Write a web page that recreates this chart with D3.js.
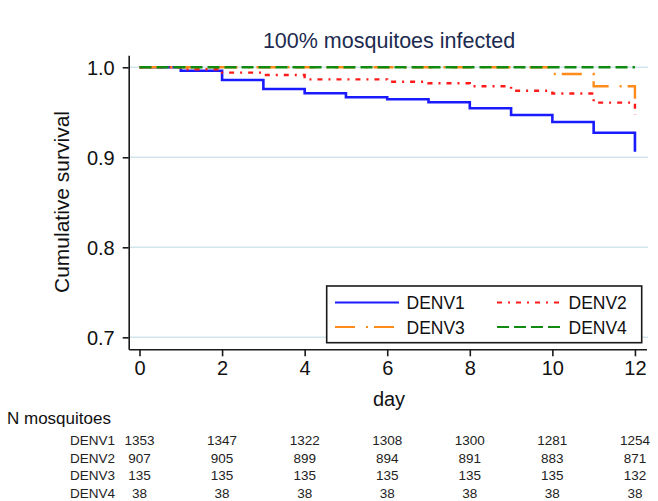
<!DOCTYPE html>
<html>
<head>
<meta charset="utf-8">
<script src="https://cdn.jsdelivr.net/npm/d3@7"></script>
<style>
  body { margin: 0; background: #fff; }
  text { font-family: "Liberation Sans", Arial, sans-serif; }
</style>
</head>
<body>
<div id="chart"></div>
<script>
// survival steps
const DAYS_DENV1 = [0, 1, 2, 3, 4, 5, 6, 7, 8, 9, 10, 11, 12];
const SURV_DENV1 = [1, 0.9962, 0.9859, 0.9759, 0.9711, 0.9667, 0.9644, 0.9611, 0.9544, 0.947, 0.9392, 0.9273, 0.9062];
const DAYS_DENV2 = [0, 1, 2, 3, 4, 6, 7, 8, 9, 10, 11, 12];
const SURV_DENV2 = [1, 0.9978, 0.994, 0.9914, 0.9866, 0.984, 0.9822, 0.9789, 0.974, 0.9709, 0.9607, 0.947];
const DAYS_DENV3 = [0, 10, 11, 12];
const SURV_DENV3 = [1, 0.9925, 0.979, 0.965];
const DAYS_DENV4 = [0, 12];
const SURV_DENV4 = [1, 1];

const Y_TICKS = [0.7, 0.8, 0.9, 1.0];
const X_TICKS = [0, 2, 4, 6, 8, 10, 12];

// number at risk table
const TABLE_DAYS = [0, 2, 4, 6, 8, 10, 12];
const N_DENV1 = [1353, 1347, 1322, 1308, 1300, 1281, 1254];
const N_DENV2 = [907, 905, 899, 894, 891, 883, 871];
const N_DENV3 = [135, 135, 135, 135, 135, 135, 132];
const N_DENV4 = [38, 38, 38, 38, 38, 38, 38];

const WIDTH = 658, HEIGHT = 501;

const series = [
    { name: 'DENV1', days: DAYS_DENV1, surv: SURV_DENV1, color: '#1a1aff', dash: null, width: 2.6 },
    { name: 'DENV2', days: DAYS_DENV2, surv: SURV_DENV2, color: '#ff1a1a', dash: '5,6,2,6', width: 2.4 },
    { name: 'DENV3', days: DAYS_DENV3, surv: SURV_DENV3, color: '#ff8c1a', dash: '20,11,2,6', width: 2.4 },
    { name: 'DENV4', days: DAYS_DENV4, surv: SURV_DENV4, color: '#108a10', dash: '12,5', width: 2.6 }
];

const svg = d3.select('#chart').append('svg')
    .attr('width', WIDTH)
    .attr('height', HEIGHT);

const x = d3.scaleLinear().domain([-0.262, 12.28]).range([128.7, 646.5]);
const y = d3.scaleLinear().domain([0.6867, 1.0133]).range([349.3, 55.3]);

// gridlines
svg.append('g')
    .selectAll('line')
    .data(Y_TICKS)
    .enter()
    .append('line')
    .attr('x1', x(-0.262)).attr('x2', 648)
    .attr('y1', d => y(d)).attr('y2', d => y(d))
    .attr('stroke', '#d3e5ec')
    .attr('stroke-width', 1.5);

// axes
const yAxis = svg.append('g')
    .attr('transform', `translate(${x(-0.262)},0)`)
    .call(d3.axisLeft(y).tickValues(Y_TICKS).tickFormat(d3.format('.1f')).tickSize(6).tickSizeOuter(0).tickPadding(8));

const xAxis = svg.append('g')
    .attr('transform', `translate(0,${y(0.6867)})`)
    .call(d3.axisBottom(x).tickValues(X_TICKS).tickSize(7).tickSizeOuter(0).tickPadding(5));

[yAxis, xAxis].forEach(a => {
    a.selectAll('path, line').attr('stroke', '#1a1a1a').attr('stroke-width', 1.6);
    a.selectAll('text').attr('fill', '#111').style('font-size', '20px')
        .style('font-family', '"Liberation Sans", Arial, sans-serif');
});
yAxis.selectAll('text').attr('dy', '0.36em');

// curves
const line = d3.line()
    .x(d => x(d[0]))
    .y(d => y(d[1]))
    .curve(d3.curveStepAfter);

svg.append('g')
    .selectAll('path')
    .data(series)
    .enter()
    .append('path')
    .attr('d', s => line(s.days.map((d, i) => [d, s.surv[i]])))
    .attr('fill', 'none')
    .attr('stroke', s => s.color)
    .attr('stroke-width', s => s.width)
    .attr('stroke-dasharray', s => s.dash);

// title and axis labels
svg.append('text')
    .attr('x', 389).attr('y', 48)
    .attr('text-anchor', 'middle')
    .attr('fill', '#1c2b4f')
    .style('font-size', '21.5px')
    .text('100% mosquitoes infected');

svg.append('text')
    .attr('x', 389).attr('y', 406)
    .attr('text-anchor', 'middle')
    .attr('fill', '#111')
    .style('font-size', '20px')
    .text('day');

svg.append('text')
    .attr('transform', 'translate(69,202) rotate(-90)')
    .attr('text-anchor', 'middle')
    .attr('fill', '#111')
    .style('font-size', '21px')
    .text('Cumulative survival');

// legend
const legend = svg.append('g');
legend.append('rect')
    .attr('x', 326.7).attr('y', 286)
    .attr('width', 315).attr('height', 56.7)
    .attr('fill', '#fff')
    .attr('stroke', '#1a1a1a')
    .attr('stroke-width', 1.6);

const legendItems = legend.selectAll('g.item')
    .data(series)
    .enter()
    .append('g')
    .attr('class', 'item')
    .attr('transform', (s, i) => `translate(${i % 2 ? 497 : 335},${i < 2 ? 302.5 : 327})`);

legendItems.append('line')
    .attr('x1', 0).attr('x2', 64)
    .attr('stroke', s => s.color)
    .attr('stroke-width', 2.2)
    .attr('stroke-dasharray', s => s.dash);

legendItems.append('text')
    .attr('x', 71.5)
    .attr('y', 6.5)
    .attr('fill', '#111')
    .style('font-size', '17.5px')
    .text(s => s.name);

// number at risk
svg.append('text')
    .attr('x', 7).attr('y', 424)
    .attr('fill', '#111')
    .style('font-size', '17px')
    .text('N mosquitoes');

const tableRows = [
    { name: 'DENV1', n: N_DENV1 },
    { name: 'DENV2', n: N_DENV2 },
    { name: 'DENV3', n: N_DENV3 },
    { name: 'DENV4', n: N_DENV4 }
];

const rows = svg.append('g')
    .selectAll('g')
    .data(tableRows)
    .enter()
    .append('g')
    .attr('transform', (r, i) => `translate(0,${445 + i * 17.6})`);

rows.append('text')
    .attr('x', 70)
    .attr('fill', '#222')
    .style('font-size', '13.5px')
    .text(r => r.name);

rows.selectAll('text.n')
    .data(r => r.n.map((v, i) => [TABLE_DAYS[i], v]))
    .enter()
    .append('text')
    .attr('class', 'n')
    .attr('x', d => x(d[0]))
    .attr('text-anchor', 'middle')
    .attr('fill', '#222')
    .style('font-size', '13.5px')
    .text(d => d[1]);
</script>
</body>
</html>
